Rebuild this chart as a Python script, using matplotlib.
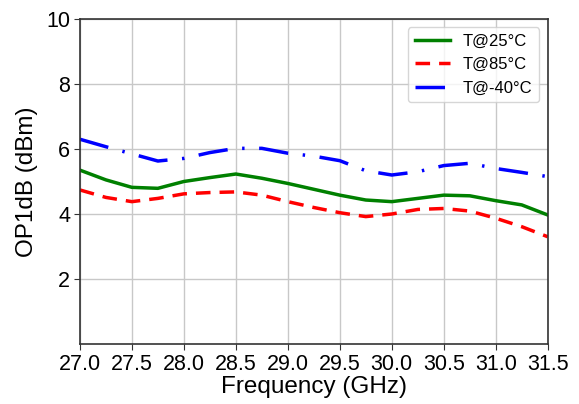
import matplotlib
matplotlib.use("Agg")
import matplotlib.pyplot as plt

# ── data ─────────────────────────────────────────────────────────────────────
freq = [27.0, 27.25, 27.5, 27.75, 28.0, 28.25, 28.5, 28.75, 29.0, 29.25,
        29.5, 29.75, 30.0, 30.25, 30.5, 30.75, 31.0, 31.25, 31.5]
t25 = [5.35, 5.05, 4.82, 4.79, 5.00, 5.12, 5.23, 5.10, 4.94, 4.76,
       4.58, 4.43, 4.38, 4.48, 4.58, 4.56, 4.41, 4.28, 3.97]
t85 = [4.74, 4.51, 4.38, 4.48, 4.62, 4.66, 4.68, 4.58, 4.38, 4.20,
       4.04, 3.92, 4.00, 4.14, 4.17, 4.09, 3.87, 3.61, 3.30]
tm40 = [6.30, 6.07, 5.85, 5.63, 5.71, 5.89, 6.02, 6.02, 5.87, 5.78,
        5.64, 5.33, 5.20, 5.30, 5.49, 5.56, 5.40, 5.28, 5.15]
labels = ["T@25°C", "T@85°C", "T@-40°C"]
xticks = [27.0, 27.5, 28.0, 28.5, 29.0, 29.5, 30.0, 30.5, 31.0, 31.5]
yticks = [2, 4, 6, 8, 10]

plt.rcParams["font.family"] = ["Liberation Sans", "DejaVu Sans"]

fig = plt.figure(figsize=(5.79, 4.04), dpi=100)
ax = fig.add_axes([0.138, 0.1485, 0.808, 0.8045])

ax.plot(freq, t25, color="green", linewidth=2.5, linestyle="-", label=labels[0])
ax.plot(freq, t85, color="red", linewidth=2.5, dashes=(4.2, 2.6), label=labels[1])
ax.plot(freq, tm40, color="blue", linewidth=2.5, dashes=(8.5, 4.2, 0.7, 4.2),
        label=labels[2])

ax.set_xlim(27.0, 31.5)
ax.set_ylim(0, 10)
ax.set_xticks(xticks)
ax.set_xticklabels([f"{v:.1f}" for v in xticks])
ax.set_yticks(yticks)
ax.grid(True, color="#c8c8c8", linewidth=1.0)
ax.set_axisbelow(True)
for sp in ax.spines.values():
    sp.set_edgecolor("#333333")
    sp.set_linewidth(1.2)
ax.tick_params(labelsize=15.5, length=4, colors="#333333", labelcolor="black",
               pad=3)
ax.set_xlabel("Frequency (GHz)", fontsize=17.5, labelpad=1)
ax.set_ylabel("OP1dB (dBm)", fontsize=17.5, labelpad=6)
ax.legend(loc="upper right", fontsize=12, handlelength=2.1)

fig.savefig("out.png", dpi=100)
